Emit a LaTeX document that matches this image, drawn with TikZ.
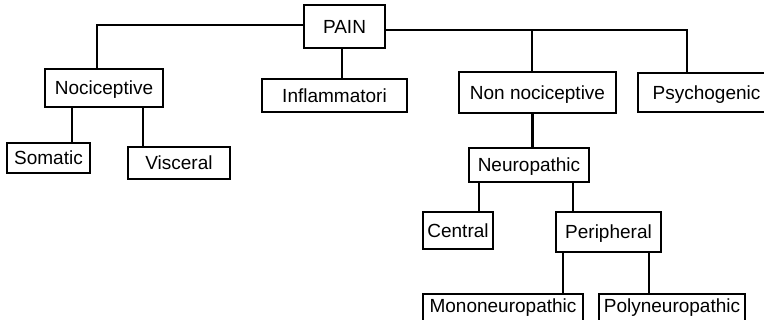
\documentclass[tikz,border=0pt]{standalone}
\usepackage{fontspec}
\setmainfont{Liberation Sans}
\begin{document}
\begin{tikzpicture}[x=1pt,y=-1pt,
  box/.style={draw, line width=2.8pt, inner sep=0pt, rectangle,
    font=\fontsize{19}{22}\selectfont, text height=13.6pt, text depth=0pt},
  cutbox/.style={box, text depth=11.6pt},
  link/.style={line width=2.8pt}]
\useasboundingbox (0,0) rectangle (764,320);
\clip (0,0) rectangle (764,320);
\node[box, minimum width=81pt, minimum height=43pt] (pain) at (344.5,26.5) {PAIN};
\node[box, minimum width=118pt, minimum height=38pt] (noci) at (104,88) {Nociceptive};
\node[box, minimum width=145pt, minimum height=33pt] (inflam) at (334.5,95.5) {Inflammatori};
\node[box, minimum width=157pt, minimum height=41pt] (nonnoci) at (537.5,92.5) {Non nociceptive};
\node[box, minimum width=137pt, minimum height=39pt] (psych) at (706.5,92.5) {Psychogenic};
\node[box, minimum width=83pt, minimum height=30pt] (somatic) at (48.5,158) {Somatic};
\node[box, minimum width=102pt, minimum height=32pt] (visceral) at (179,163) {Visceral};
\node[box, minimum width=120pt, minimum height=34pt] (neuro) at (529,165) {Neuropathic};
\node[box, minimum width=70pt, minimum height=37pt] (central) at (458,230.5) {Central};
\node[box, minimum width=105pt, minimum height=40pt] (periph) at (608.5,232) {Peripheral};
\node[cutbox, minimum width=160pt, minimum height=36pt] (mono) at (503,312) {Mononeuropathic};
\node[cutbox, minimum width=146pt, minimum height=36pt] (poly) at (672,312) {Polyneuropathic};
% PAIN branches
\draw[link] ([yshift=1.5pt]pain.west) -| ([xshift=-7pt]noci.north);
\draw[link] ([xshift=-2.5pt]pain.south) -- ([xshift=7.5pt]inflam.north);
\draw[link] ([yshift=-3.5pt]pain.east) -| ([xshift=-19.5pt]psych.north);
\coordinate (jr) at (532,30);
\draw[link] (jr) -- ([xshift=-5.5pt]nonnoci.north);
% Nociceptive
\draw[link] ([xshift=-32pt]noci.south) -- ([xshift=23.5pt]somatic.north);
\draw[link] ([xshift=39pt]noci.south) -- ([xshift=-36pt]visceral.north);
% Non nociceptive
\draw[link] ([xshift=-5pt]nonnoci.south) -- ([xshift=3.5pt]neuro.north);
\draw[link] ([xshift=-50pt]neuro.south) -- ([xshift=21pt]central.north);
\draw[link] ([xshift=44pt]neuro.south) -- ([xshift=-35.5pt]periph.north);
\draw[link] ([xshift=-45.5pt]periph.south) -- ([xshift=60pt]mono.north);
\draw[link] ([xshift=40.5pt]periph.south) -- ([xshift=-23pt]poly.north);
\end{tikzpicture}
\end{document}
